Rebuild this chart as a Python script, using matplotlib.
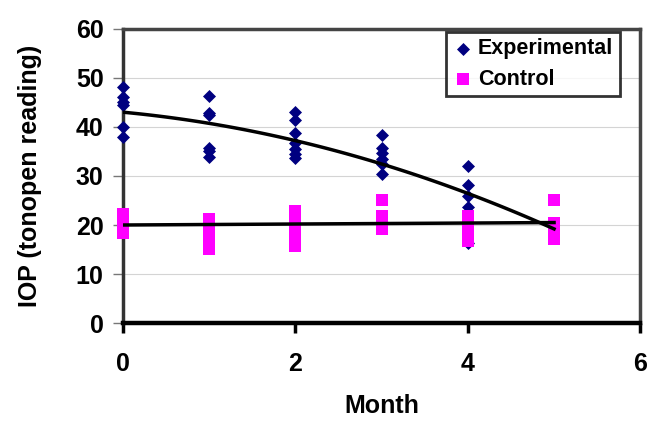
import matplotlib
matplotlib.use("Agg")
import matplotlib.pyplot as plt
import numpy as np

plt.rcParams['font.family'] = ['Liberation Sans', 'DejaVu Sans']
plt.rcParams['font.weight'] = 'bold'

# Experimental readings (month, IOP)
exp_month = [0, 0, 0, 0, 0, 0,
             1, 1, 1, 1, 1, 1,
             2, 2, 2, 2, 2, 2, 2,
             3, 3, 3, 3, 3, 3,
             4, 4, 4, 4, 4]
exp_iop = [48.2, 46.0, 45.0, 44.4, 39.9, 38.0,
           46.3, 42.8, 42.5, 35.8, 35.0, 33.9,
           43.0, 41.4, 38.7, 36.7, 35.5, 34.5, 33.7,
           38.4, 35.6, 34.6, 33.5, 32.4, 30.5,
           32.1, 28.2, 26.0, 23.6, 16.3]

# Control readings (month, IOP)
ctl_month = [0, 0, 0, 0, 0,
             1, 1, 1, 1, 1, 1, 1,
             2, 2, 2, 2, 2, 2, 2, 2, 2,
             3, 3, 3, 3, 3,
             4, 4, 4, 4, 4, 4, 4,
             5, 5, 5, 5, 5]
ctl_iop = [22.2, 21.0, 20.0, 19.0, 18.3,
           21.2, 20.0, 19.0, 18.0, 17.0, 16.0, 15.2,
           22.8, 22.0, 21.0, 20.0, 18.7, 18.0, 17.0, 16.2, 15.7,
           25.2, 21.9, 21.0, 20.0, 19.2,
           21.8, 21.0, 20.0, 19.0, 18.0, 17.0, 16.8,
           25.2, 20.5, 19.5, 18.5, 17.2]

# Trendline coefficients (constant, linear, quadratic)
exp_trend = [43.0, -1.66, -0.62]
ctl_trend = [20.0, 0.1, 0.0]
trend_end = 5

x_ticks = [0, 2, 4, 6]
y_ticks = [0, 10, 20, 30, 40, 50, 60]

fig = plt.figure(figsize=(6.69, 4.24), dpi=100)
ax = fig.add_axes([0.184, 0.238, 0.773, 0.694])

ax.set_xlim(0, 6)
ax.set_ylim(0, 60)
ax.set_yticks(y_ticks)
ax.set_xticks(x_ticks)
ax.grid(axis='y', color='#d4d4d4', linewidth=0.8)
ax.set_axisbelow(True)

ax.scatter(exp_month, exp_iop, marker='D', s=44, color='#000080', zorder=3,
           label='Experimental', clip_on=False, linewidths=0)
ax.scatter(ctl_month, ctl_iop, marker='s', s=70, color='#FF00FF', zorder=3,
           label='Control', clip_on=False, linewidths=0)

xt = np.linspace(0, trend_end, 100)
ax.plot(xt, exp_trend[0] + exp_trend[1]*xt + exp_trend[2]*xt**2, color='black', lw=2.5, zorder=4)
ax.plot(xt, ctl_trend[0] + ctl_trend[1]*xt + ctl_trend[2]*xt**2, color='black', lw=2.5, zorder=4)

ax.spines['bottom'].set_linewidth(3.2)
ax.spines['bottom'].set_color('black')
ax.spines['left'].set_linewidth(2.5)
ax.spines['left'].set_color('#333333')
for s in ['top', 'right']:
    ax.spines[s].set_linewidth(2.5)
    ax.spines[s].set_color('#444444')

ax.tick_params(axis='both', labelsize=18, direction='out')
ax.tick_params(axis='x', width=2.5, length=7, color='black', pad=14)
ax.tick_params(axis='y', width=1, length=7, color='#777777', pad=7)
for lab in ax.get_xticklabels() + ax.get_yticklabels():
    lab.set_fontweight('bold')

ax.set_xlabel('Month', fontsize=18, fontweight='bold', labelpad=13)
ax.set_ylabel('IOP (tonopen reading)', fontsize=18, fontweight='bold', labelpad=24)

leg = ax.legend(loc='upper right', bbox_to_anchor=(0.96, 0.99), fontsize=15.5,
                frameon=True, fancybox=False, edgecolor='black', handletextpad=0.2,
                borderpad=0.3, labelspacing=0.45, handlelength=1.0, borderaxespad=0)
leg.get_frame().set_linewidth(2)
for t in leg.get_texts():
    t.set_fontweight('bold')

fig.savefig('out.png', dpi=100)
